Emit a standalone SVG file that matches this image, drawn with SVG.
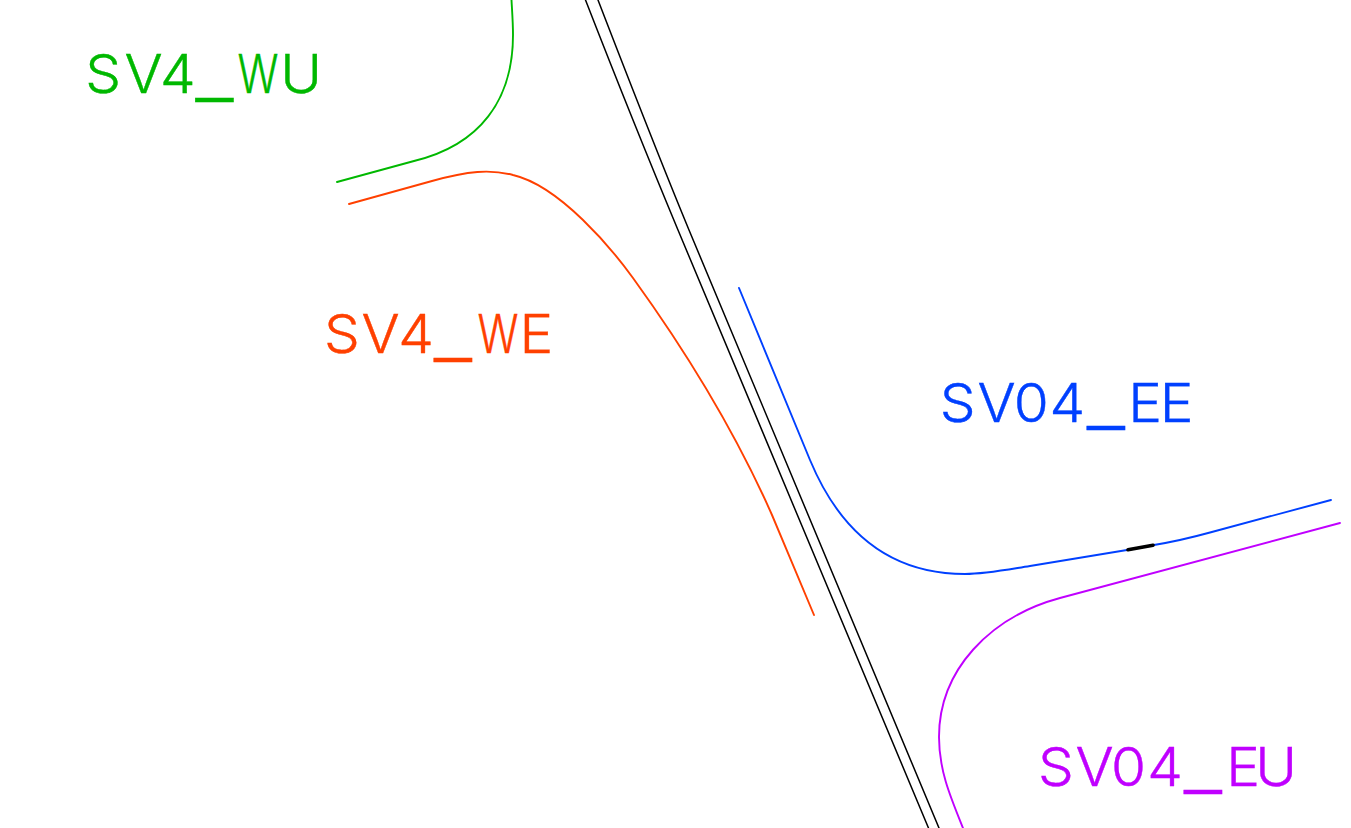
<svg xmlns="http://www.w3.org/2000/svg" width="1351" height="828" viewBox="0 0 1351 828">
<style>
.l{fill:none;stroke-width:1.9;stroke-linecap:round;stroke-linejoin:round}
.k{stroke:#000;stroke-width:1.5}
.b{stroke:#000;stroke-width:3.6}
.g{stroke:#00b800}.r{stroke:#ff4000}.c{stroke:#0040ff}.p{stroke:#c000ff}
.t{font-family:"Inter","Liberation Sans",sans-serif;font-weight:300;font-size:54px;stroke-width:.4}
.u{font-family:"Liberation Sans",sans-serif;font-weight:400;font-size:62.600px}
</style>
<rect width="1351" height="828" fill="#fff"/>
<g id="connectors">
<path class="l k" d="M585.500 0C612 68 648 158 678 230L928.500 828"/>
<path class="l k" d="M598 0C625 70 660 160 689 230L939 828"/>
<path id="wu" class="l g" d="M337 182L414 161C480 145 513 100 513 35C513 22 512 10 511.500 0"/>
<path id="we" class="l r" d="M349 204L432 181C468 171 490 169 513 175C560 186 612 249 633 278C680 343 730 420 772 515L814 615"/>
<path id="ee" class="l c" d="M739 288L810 460C835 520 880 574 965 574C985 574 1005 570 1030 566L1127 550L1154 545C1175 541.500 1190 538 1210 532.500L1331 500"/>
<path class="l b" d="M1128 549.800L1153 545.200"/>
<path id="eu" class="l p" d="M1340 523L1060 598C990 617 939 670 939 737C939 770 950 796 963 828"/>
</g>
<g id="SV4_WU"><text class="t" fill="#00b800" stroke="#00b800" transform="scale(1.05 1)"><tspan x="81.200 118.600 152.500" y="93.500">SV4</tspan><tspan class="u" x="187" y="89">_</tspan><tspan x="226.200" y="93.500" textLength="39" lengthAdjust="spacingAndGlyphs">W</tspan><tspan x="267" y="93.500">U</tspan></text></g>
<g id="SV4_WE"><text class="t" fill="#ff4000" stroke="#ff4000" transform="scale(1.05 1)"><tspan x="308.600 344.300 379.400" y="353.500">SV4</tspan><tspan class="u" x="414" y="349">_</tspan><tspan x="454.800" y="353.500" textLength="39" lengthAdjust="spacingAndGlyphs">W</tspan><tspan x="494.800" y="353.500">E</tspan></text></g>
<g id="SV04_EE"><text class="t" fill="#0040ff" stroke="#0040ff" transform="scale(1.05 1)"><tspan x="895 931 965.500 999.500" y="422">SV04</tspan><tspan class="u" x="1035.900" y="417.500">_</tspan><tspan x="1074.500 1104.500" y="422">EE</tspan></text></g>
<g id="SV04_EU"><text class="t" fill="#c000ff" stroke="#c000ff" transform="scale(1.05 1)"><tspan x="988.500 1024.300 1058 1092.700" y="786">SV04</tspan><tspan class="u" x="1128.300" y="781.500">_</tspan><tspan x="1167.800 1195.500" y="786">EU</tspan></text></g>
</svg>
